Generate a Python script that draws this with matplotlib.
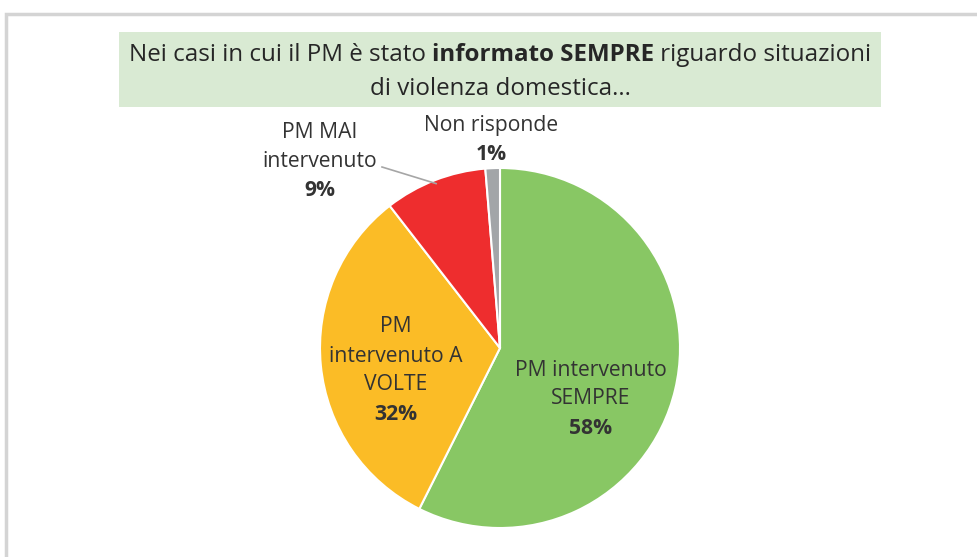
import numpy as np
import matplotlib.pyplot as plt
from matplotlib.patches import Rectangle

W, H = 978, 557

# data
categories = ["PM intervenuto\nSEMPRE", "PM\nintervenuto A\nVOLTE", "PM MAI\nintervenuto", "Non risponde"]
values = [57.4, 32.1, 9.2, 1.3]
pct_labels = ["58%", "32%", "9%", "1%"]
colors = ["#88C764", "#FBBC26", "#EE2D2E", "#A2A5A8"]

title_parts = [("Nei casi in cui il PM è stato ", "normal"),
               ("informato SEMPRE", "bold"),
               (" riguardo situazioni", "normal")]
title_line2 = "di violenza domestica..."

plt.rcParams['font.family'] = ['Open Sans', 'DejaVu Sans']

fig = plt.figure(figsize=(W / 100, H / 100), dpi=100)


def fx(px):
    return px / W


def fy(py):
    return 1 - py / H


# outer frame of the chart area (right and bottom edges run off the image)
fig.patches.append(Rectangle((fx(6), fy(620)), fx(1100), (620 - 14) / H,
                             transform=fig.transFigure, fill=False,
                             edgecolor="#D4D4D4", linewidth=2.5))

# title box
fig.patches.append(Rectangle((fx(119), fy(107)), fx(881 - 119), (107 - 32) / H,
                             transform=fig.transFigure, facecolor="#D9EAD3",
                             edgecolor="none"))

# pie axes: center (500, 348), radius 180 px
cx, cy, r = 500, 348, 180
ax = fig.add_axes([fx(cx - r), fy(cy + r), 2 * r / W, 2 * r / H])
wedges, _ = ax.pie(values, colors=colors, startangle=90, counterclock=False,
                   radius=1, wedgeprops=dict(edgecolor="white", linewidth=1.5))
ax.set_xlim(-1, 1)
ax.set_ylim(-1, 1)
ax.set_aspect("equal")
ax.axis("off")

fs = 15.2
txt_color = "#333333"


def px2d(px, py):
    return (px - cx) / r, (cy - py) / r


# label block: center x, first line y, line step (pixels)
label_pos = [(591, 370, 29), (396, 327, 29), (320, 132, 29), (491, 125, 29)]
for name, pct, (lx, ly, step) in zip(categories, pct_labels, label_pos):
    lines = name.split("\n")
    for i, line in enumerate(lines):
        x, y = px2d(lx, ly + i * step)
        ax.text(x, y, line, ha="center", va="center", fontsize=fs,
                color=txt_color, clip_on=False)
    x, y = px2d(lx, ly + len(lines) * step)
    ax.text(x, y, pct, ha="center", va="center", fontsize=fs, color=txt_color,
            fontweight="bold", clip_on=False)

# leader line for the red slice
w = wedges[2]
mid = np.deg2rad((w.theta1 + w.theta2) / 2)
ex, ey = np.cos(mid), np.sin(mid)
sx, sy = px2d(382, 167)
ax.plot([sx, ex * 0.98], [sy, ey * 0.98], color="#A6A6A6", linewidth=1.2, clip_on=False)

# title with mixed weights
fig.canvas.draw()
renderer = fig.canvas.get_renderer()
tfs = 17.4
pieces = []
for s, wt in title_parts:
    t = fig.text(0, fy(55), s, fontsize=tfs, fontweight=wt, color="#262626",
                 ha="left", va="center")
    pieces.append(t)
widths = [p.get_window_extent(renderer).width for p in pieces]
x0 = 500 - sum(widths) / 2
for p, wd in zip(pieces, widths):
    p.set_x(fx(x0))
    x0 += wd
fig.text(fx(500), fy(89), title_line2, fontsize=tfs, color="#262626",
         ha="center", va="center")

fig.savefig("out.png", dpi=100)
